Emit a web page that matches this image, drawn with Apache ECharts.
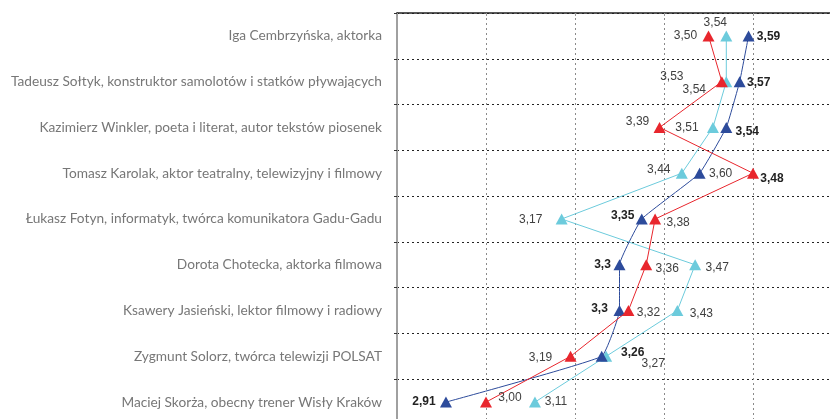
<!DOCTYPE html>
<html>
<head>
<meta charset="utf-8">
<script src="https://cdn.jsdelivr.net/npm/echarts@6/dist/echarts.min.js"></script>
<style>
  html, body { margin: 0; padding: 0; background: #fff; overflow: hidden; }
  /* wykres przycięty z prawej i z dołu jak na oryginale */
  #chart { width: 842px; height: 425px; }
</style>
</head>
<body>
<div id="chart"></div>
<script>
// kategorie (od góry)
const categories = [
  "Iga Cembrzyńska, aktorka",
  "Tadeusz Sołtyk, konstruktor samolotów i statków pływających",
  "Kazimierz Winkler, poeta i literat, autor tekstów piosenek",
  "Tomasz Karolak, aktor teatralny, telewizyjny i filmowy",
  "Łukasz Fotyn, informatyk, twórca komunikatora Gadu-Gadu",
  "Dorota Chotecka, aktorka filmowa",
  "Ksawery Jasieński, lektor filmowy i radiowy",
  "Zygmunt Solorz, twórca telewizji POLSAT",
  "Maciej Skorża, obecny trener Wisły Kraków"
];

// wartości serii
const redValues  = [3.50, 3.53, 3.39, 3.60, 3.38, 3.36, 3.32, 3.19, 3.00];
const cyanValues = [3.54, 3.54, 3.51, 3.44, 3.17, 3.47, 3.43, 3.27, 3.11];
const navyValues = [3.59, 3.57, 3.54, 3.48, 3.35, 3.30, 3.30, 3.26, 2.91];

// etykiety tak jak na obrazku (przy znacznikach)
const redLabels  = ["3,50", "3,53", "3,39", "3,48", "3,38", "3,36", "3,32", "3,19", "3,00"];
const cyanLabels = ["3,54", "3,54", "3,51", "3,44", "3,17", "3,47", "3,43", "3,27", "3,11"];
const navyLabels = ["3,59", "3,57", "3,54", "3,60", "3,35", "3,3", "3,3", "3,26", "2,91"];

// przesunięcia etykiet względem znacznika
const redOffsets  = [[-23, 0], [-50, -5], [-22, -6], [19, 5], [23, 4], [21, 4], [20, 2], [-30, 1], [24, -4]];
const cyanOffsets = [[-11, -13], [-32, 8], [-26, 0], [-23, -4], [-31, 1], [22, 3], [24, 3], [47, 7], [21, 0]];
const navyOffsets = [[20, 1], [19, 1], [21, 4], [21, 0], [-19, -3], [-17, 0], [-20, -2], [31, -4], [-22, 0]];
const swappedIdx = 3; // na oryginale etykiety czerwona/granatowa przy Karolaku mają zamienioną grubość

const labelFont = "Liberation Sans, Arial, sans-serif";

function buildData(values, labels, offsets, bold, swap) {
  return values.map((v, i) => {
    const isBold = swap && i === swappedIdx ? !bold : bold;
    return {
      value: v,
      label: {
        show: true,
        position: "inside",
        offset: offsets[i],
        formatter: labels[i],
        fontFamily: labelFont,
        fontSize: 12,
        fontWeight: isBold ? "bold" : "normal",
        color: isBold ? "#222" : "#404040"
      }
    };
  });
}

function makeSeries(name, color, values, labels, offsets, bold, swap, smooth, z) {
  return {
    name: name,
    type: "line",
    data: buildData(values, labels, offsets, bold, swap),
    symbol: "triangle",
    symbolSize: [12, 11],
    smooth: smooth,
    z: z,
    itemStyle: { color: color },
    lineStyle: { color: color, width: 1 },
    emphasis: { disabled: true }
  };
}

const chart = echarts.init(document.getElementById("chart"));
chart.setOption({
  animation: false,
  grid: { left: 397, top: 13, right: 0, bottom: 0 },
  xAxis: {
    type: "value",
    position: "top",
    min: 2.8,
    max: 3.8,
    interval: 0.2,
    axisLine: { show: true, lineStyle: { color: "#222", width: 1.5 } },
    axisTick: { show: true, inside: true, length: 3, lineStyle: { color: "#999" } },
    axisLabel: { show: false },
    splitLine: { show: true, lineStyle: { color: "#8a8a8a", type: [2, 3], width: 1 } }
  },
  yAxis: {
    type: "category",
    inverse: true,
    data: categories,
    axisLine: { show: true, lineStyle: { color: "#a0a0a0", width: 2 } },
    axisTick: { show: true, length: 3, lineStyle: { color: "#333" } },
    axisLabel: { color: "#777", fontSize: 13.7, fontFamily: "Lato, sans-serif", margin: 15 },
    splitLine: { show: true, lineStyle: { color: "#222", type: [2, 3], width: 1 } }
  },
  series: [
    makeSeries("cyan", "#6ccbdc", cyanValues, cyanLabels, cyanOffsets, false, false, false, 2),
    makeSeries("navy", "#2d4b9b", navyValues, navyLabels, navyOffsets, true, true, 0.1, 3),
    makeSeries("red", "#e8262d", redValues, redLabels, redOffsets, false, true, false, 4)
  ]
});
</script>
</body>
</html>
